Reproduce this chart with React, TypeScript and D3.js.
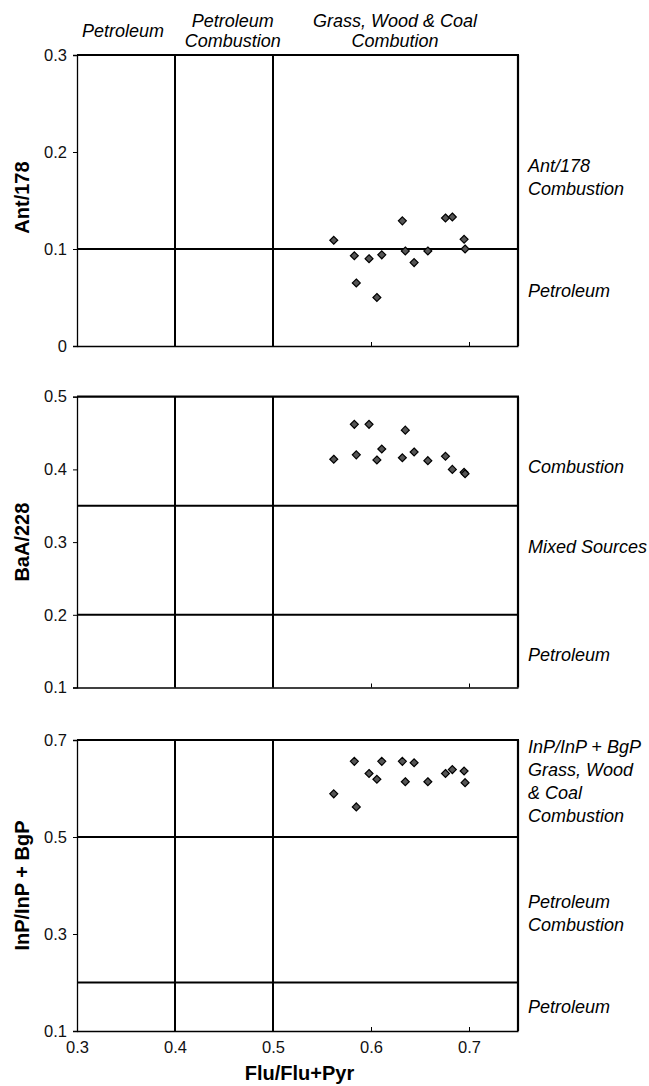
import React, { useEffect, useRef } from "react";
import * as d3 from "d3";

// Flu/Flu+Pyr for each sample (shared by the three panels)
const flu = [0.562, 0.583, 0.585, 0.598, 0.606, 0.611, 0.632, 0.635, 0.644, 0.658, 0.676, 0.683, 0.695, 0.696];
// Ant/178
const ant = [0.109, 0.093, 0.065, 0.090, 0.050, 0.094, 0.129, 0.098, 0.086, 0.098, 0.132, 0.133, 0.110, 0.100];
// BaA/228
const baa = [0.414, 0.462, 0.420, 0.462, 0.413, 0.428, 0.416, 0.454, 0.424, 0.412, 0.418, 0.400, 0.396, 0.394];
// InP/InP + BgP
const inp = [0.589, 0.656, 0.562, 0.631, 0.619, 0.656, 0.656, 0.614, 0.653, 0.614, 0.631, 0.639, 0.636, 0.612];

const xTicks = [0.3, 0.4, 0.5, 0.6, 0.7];
const xSplits = [0.4, 0.5];
const topLabels = [
  { lines: ["Petroleum"], at: 0.347 },
  { lines: ["Petroleum", "Combustion"], at: 0.459 },
  { lines: ["Grass, Wood & Coal", "Combution"], at: 0.6245 },
];

const panels = [
  {
    title: "Ant/178",
    domain: [0, 0.3],
    ticks: [0, 0.1, 0.2, 0.3],
    splits: [0.1],
    values: ant,
    notes: [
      { lines: ["Ant/178", "Combustion"], at: 0.179 },
      { lines: ["Petroleum"], at: 0.0505 },
    ],
  },
  {
    title: "BaA/228",
    domain: [0.1, 0.5],
    ticks: [0.1, 0.2, 0.3, 0.4, 0.5],
    splits: [0.35, 0.2],
    values: baa,
    notes: [
      { lines: ["Combustion"], at: 0.395 },
      { lines: ["Mixed Sources"], at: 0.285 },
      { lines: ["Petroleum"], at: 0.136 },
    ],
  },
  {
    title: "InP/InP + BgP",
    domain: [0.1, 0.7],
    ticks: [0.1, 0.3, 0.5, 0.7],
    splits: [0.5, 0.2],
    values: inp,
    notes: [
      { lines: ["InP/InP + BgP", "Grass, Wood", "& Coal", "Combustion"], at: 0.673 },
      { lines: ["Petroleum", "Combustion"], at: 0.354 },
      { lines: ["Petroleum"], at: 0.137 },
    ],
  },
];

const FONT = "'Liberation Sans', Arial, Helvetica, sans-serif";

export default function App() {
  const ref = useRef<SVGSVGElement | null>(null);

  useEffect(() => {
    document.body.style.margin = "0";
    var svg = d3.select(ref.current);
    svg.selectAll("*").remove();

    var left = 77, right = 518;
    var x = d3.scaleLinear().domain([0.3, 0.75]).range([left, right]);
    // panel pixel extents (bottom, top)
    var frames = [
      [346, 55],
      [687.5, 396.7],
      [1031, 740],
    ];

    // header labels above the first panel
    topLabels.forEach(function (lab) {
      var t = svg.append("text")
        .attr("x", x(lab.at))
        .attr("text-anchor", "middle")
        .style("font-family", FONT)
        .style("font-style", "italic")
        .style("font-size", "18px");
      var y0 = lab.lines.length === 1 ? 36.7 : 26.7;
      lab.lines.forEach(function (line, i) {
        t.append("tspan").attr("x", x(lab.at)).attr("y", y0 + i * 20).text(line);
      });
    });

    panels.forEach(function (p, pi) {
      var f = frames[pi];
      var y = d3.scaleLinear().domain(p.domain).range(f);
      var g = svg.append("g");

      // region split lines
      xSplits.forEach(function (v) {
        g.append("line")
          .attr("x1", x(v)).attr("x2", x(v))
          .attr("y1", f[0]).attr("y2", f[1])
          .attr("stroke", "#000").attr("stroke-width", 2);
      });
      p.splits.forEach(function (v) {
        g.append("line")
          .attr("x1", left).attr("x2", right)
          .attr("y1", y(v)).attr("y2", y(v))
          .attr("stroke", "#000").attr("stroke-width", 2);
      });

      // frame: heavy top/right, lighter axes
      g.append("line").attr("x1", left).attr("x2", right + 1).attr("y1", f[1]).attr("y2", f[1])
        .attr("stroke", "#000").attr("stroke-width", 2.2);
      g.append("line").attr("x1", right).attr("x2", right).attr("y1", f[1]).attr("y2", f[0])
        .attr("stroke", "#000").attr("stroke-width", 2.2);

      // y axis
      var yAxis = g.append("g")
        .attr("transform", "translate(" + left + ",0)")
        .call(d3.axisLeft(y).tickValues(p.ticks).tickSize(4).tickPadding(6)
          .tickFormat(function (d: any) { return d === 0 ? "0" : d3.format(".1f")(d); }));
      yAxis.select(".domain").attr("stroke", "#000").attr("stroke-width", 1.3);
      yAxis.selectAll("line").attr("stroke", "#000");
      yAxis.selectAll("text")
        .style("font-family", FONT).style("font-size", "16.5px").attr("fill", "#111");

      // x axis (labels only on the last panel)
      var last = pi === panels.length - 1;
      var xAxis = g.append("g")
        .attr("transform", "translate(0," + f[0] + ")")
        .call(d3.axisBottom(x).tickValues(xTicks).tickSizeInner(-4).tickSizeOuter(0).tickPadding(8)
          .tickFormat(function (d: any) { return last ? d3.format(".1f")(d) : ""; }));
      xAxis.select(".domain").attr("stroke", "#000").attr("stroke-width", 1.3);
      xAxis.selectAll("line").attr("stroke", "#000");
      xAxis.selectAll("text")
        .style("font-family", FONT).style("font-size", "16.5px").attr("fill", "#111")
        .attr("dy", "0.85em");

      // y title
      g.append("text")
        .attr("transform", "translate(22," + ((f[0] + f[1]) / 2 - (pi === 0 ? 3 : 0)) + ") rotate(-90)")
        .attr("text-anchor", "middle")
        .attr("dominant-baseline", "central")
        .style("font-family", FONT)
        .style("font-weight", "bold")
        .style("font-size", "20px")
        .text(p.title);

      // notes on the right
      p.notes.forEach(function (n) {
        var t = g.append("text")
          .style("font-family", FONT)
          .style("font-style", "italic")
          .style("font-size", "18px");
        n.lines.forEach(function (line, i) {
          t.append("tspan").attr("x", 528).attr("y", y(n.at) + i * 23).text(line);
        });
      });

      // samples
      g.selectAll(".pt")
        .data(p.values)
        .enter().append("path")
        .attr("class", "pt")
        .attr("d", d3.symbol().type(d3.symbolDiamond2).size(40))
        .attr("transform", function (d, i) { return "translate(" + x(flu[i]) + "," + y(d) + ")"; })
        .attr("fill", "#555")
        .attr("stroke", "#000")
        .attr("stroke-width", 1.2);
    });

    // x title
    svg.append("text")
      .attr("x", (left + right) / 2 + 2)
      .attr("y", 1080)
      .attr("text-anchor", "middle")
      .style("font-family", FONT)
      .style("font-weight", "bold")
      .style("font-size", "20px")
      .text("Flu/Flu+Pyr");
  }, []);

  return <svg ref={ref} width={649} height={1086} style={{ display: "block", background: "#fff" }} />;
}
